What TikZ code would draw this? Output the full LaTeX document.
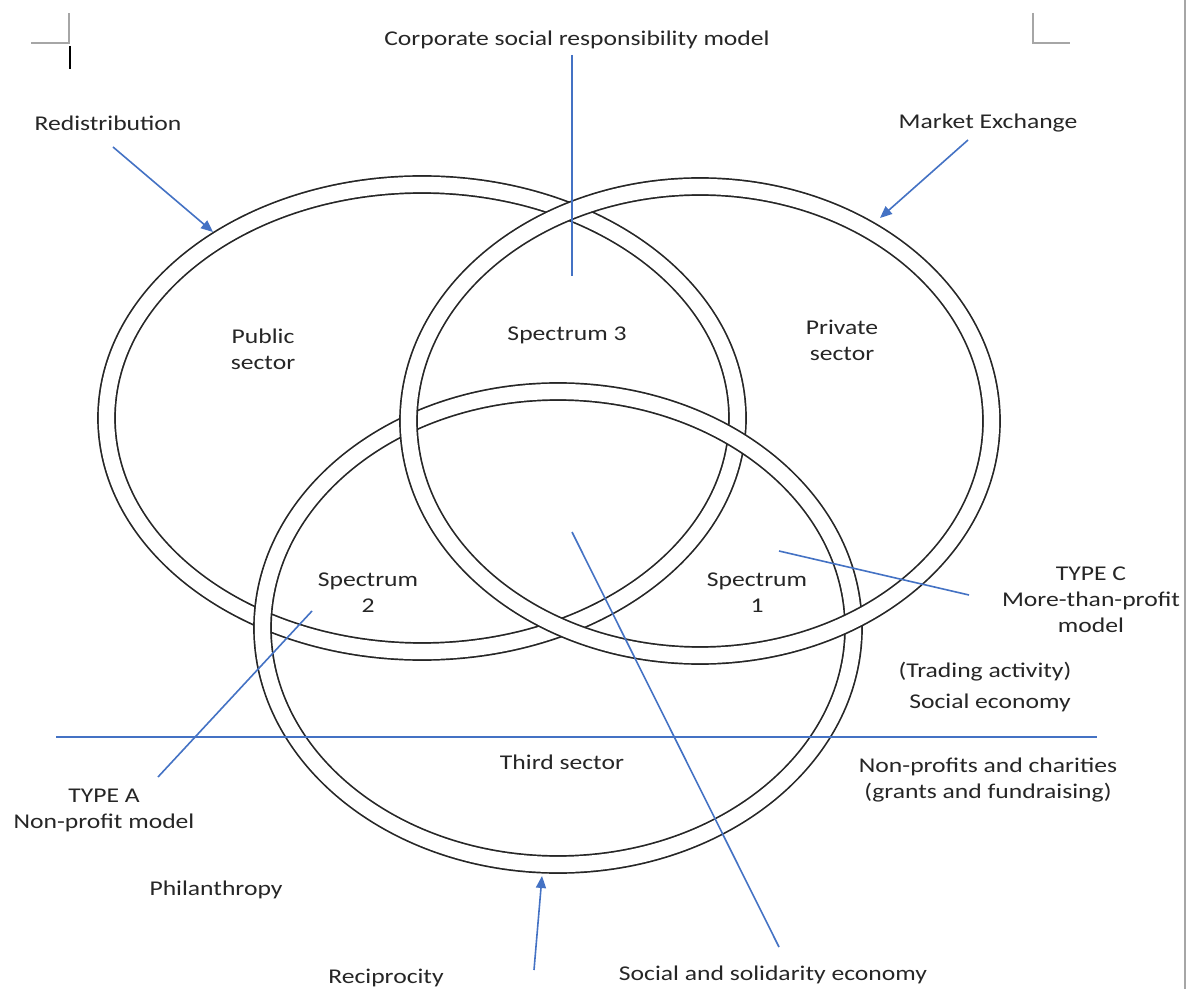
\documentclass[tikz,border=0pt]{standalone}
\usepackage{fontspec}
\setmainfont{Carlito}[FakeStretch=1.22]
\usetikzlibrary{arrows.meta}
\definecolor{linkblue}{HTML}{4472C4}
\definecolor{markgray}{HTML}{A6A6A6}
\begin{document}
\begin{tikzpicture}[x=0.5pt,y=-0.5pt,
  ring/.style={draw=black!85, line width=0.85pt, double=white, double distance=7.65pt},
  link/.style={draw=linkblue, line width=0.8pt},
  linkarrow/.style={link, -{Triangle[length=6pt,width=5pt]}},
  lbl/.style={font=\fontsize{10.5}{13}\selectfont, text=black!85, inner sep=0pt, align=center},
  cropmark/.style={draw=markgray, line width=0.6pt}]

% page area
\fill[white] (0,0) rectangle (1189,989);
\useasboundingbox (0,0) rectangle (1189,989);

% page corner marks, text cursor and right page edge
\draw[cropmark] (31,43) -- (69,43) -- (69,13);
\draw[cropmark] (1033,13) -- (1033,43) -- (1070,43);
\draw[cropmark] (1185,0) -- (1185,989);
\draw[black, line width=1pt] (70,46) -- (70,69);

% the three sectors as double rings (public, third, private)
\draw[ring] (422,418) ellipse [x radius=315.5, y radius=233.5];
\draw[ring] (558,628) ellipse [x radius=295.5, y radius=236.5];
\draw[ring] (700,421) ellipse [x radius=291.5, y radius=234.5];

% labels
\node[lbl] (csr) at (577,40) {Corporate social responsibility model};
\node[lbl] (redis) at (108,123) {Redistribution};
\node[lbl] (market) at (988,123) {Market Exchange};
\node[lbl] (public) at (263,349) {Public\\sector};
\node[lbl] (spec3) at (567,335) {Spectrum 3};
\node[lbl] (private) at (842,340) {Private\\sector};
\node[lbl] (spec2) at (368,593) {Spectrum\\2};
\node[lbl] (spec1) at (757,593) {Spectrum\\1};
\node[lbl] (typec) at (1091,600) {TYPE C\\More-than-profit\\model};
\node[lbl] (trading) at (985,672) {(Trading activity)};
\node[lbl] (socecon) at (990,703) {Social economy};
\node[lbl] (third) at (562,762) {Third sector};
\node[lbl] (nonprof) at (988,780) {Non-profits and charities\\(grants and fundraising)};
\node[lbl] (typea) at (104,810) {TYPE A\\Non-profit model};
\node[lbl] (phil) at (216,890) {Philanthropy};
\node[lbl] (recip) at (386,978) {Reciprocity};
\node[lbl] (sse) at (773,975) {Social and solidarity economy};

% connector end points
\coordinate (csrTop) at (572,55);
\coordinate (csrEnd) at (572,276);
\coordinate (redisTail) at (113,147);
\coordinate (redisTip) at (213,232);
\coordinate (marketTail) at (968,140);
\coordinate (marketTip) at (880,218);
\coordinate (typecIn) at (779,551);
\coordinate (typecOut) at (969,595);
\coordinate (divLeft) at (56,737);
\coordinate (divRight) at (1097,737);
\coordinate (typeaOut) at (158,777);
\coordinate (typeaIn) at (312,611);
\coordinate (sseIn) at (572,532);
\coordinate (sseOut) at (779,947);
\coordinate (recipTail) at (534,970);
\coordinate (recipTip) at (542,876);

% connectors
\draw[link] (csrTop) -- (csrEnd);
\draw[linkarrow] (redisTail) -- (redisTip);
\draw[linkarrow] (marketTail) -- (marketTip);
\draw[link] (typecIn) -- (typecOut);
\draw[link] (divLeft) -- (divRight);
\draw[link] (typeaOut) -- (typeaIn);
\draw[link] (sseIn) -- (sseOut);
\draw[linkarrow] (recipTail) -- (recipTip);
\end{tikzpicture}
\end{document}
